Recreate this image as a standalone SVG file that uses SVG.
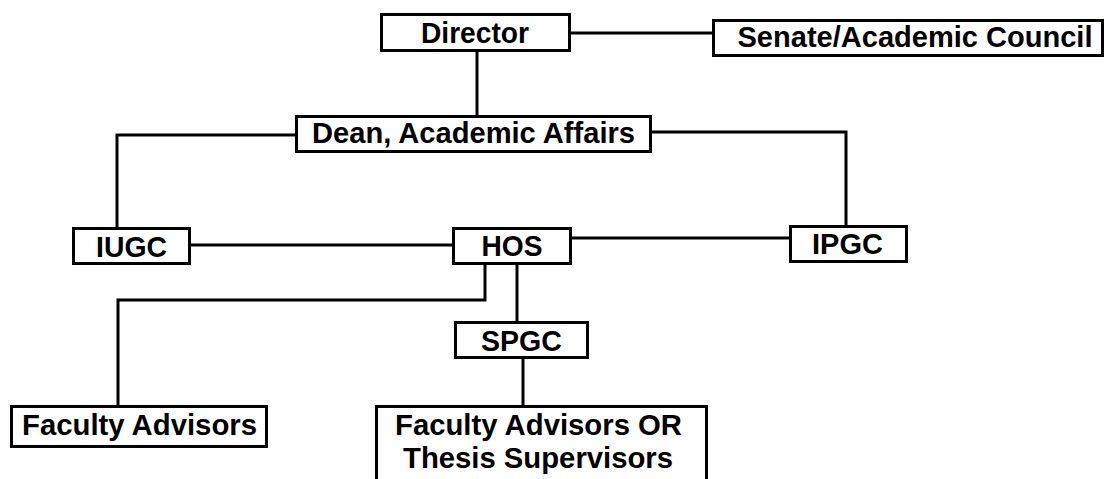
<svg xmlns="http://www.w3.org/2000/svg" width="1110" height="479" viewBox="0 0 1110 479">
<style>
.box{fill:#fff;stroke:#000;stroke-width:3}
.lbl{font-family:"Liberation Sans",Arial,sans-serif;font-weight:bold;font-size:30px;fill:#000;text-anchor:middle}
.con{fill:none;stroke:#000;stroke-width:3}
</style>
<rect width="1110" height="479" fill="#fff"/>
<g id="connectors">
<polyline class="con" points="571,33 712,33"/>
<polyline class="con" points="477,52 477,115"/>
<polyline class="con" points="295,135 117,135 117,227"/>
<polyline class="con" points="652,132 846,132 846,225"/>
<polyline class="con" points="191,245 452,245"/>
<polyline class="con" points="572,238 789,238"/>
<polyline class="con" points="485,265 485,300 118,300 118,405"/>
<polyline class="con" points="517,265 517,321"/>
<polyline class="con" points="523,359 523,405"/>
</g>
<g id="director"><rect class="box" x="381.5" y="14.5" width="188" height="36"/><text class="lbl" x="475" y="43" textLength="108" lengthAdjust="spacingAndGlyphs">Director</text></g>
<g id="senate"><rect class="box" x="713.5" y="20.5" width="389" height="35"/><text class="lbl" x="915" y="47" textLength="355" lengthAdjust="spacingAndGlyphs">Senate/Academic Council</text></g>
<g id="dean"><rect class="box" x="296.5" y="116.5" width="354" height="35"/><text class="lbl" x="473.5" y="143" textLength="323" lengthAdjust="spacingAndGlyphs">Dean, Academic Affairs</text></g>
<g id="iugc"><rect class="box" x="73.5" y="228.5" width="116" height="35"/><text class="lbl" x="131.5" y="257" textLength="71" lengthAdjust="spacingAndGlyphs">IUGC</text></g>
<g id="hos"><rect class="box" x="453.5" y="228.5" width="117" height="35"/><text class="lbl" x="512" y="256" textLength="61" lengthAdjust="spacingAndGlyphs">HOS</text></g>
<g id="ipgc"><rect class="box" x="790.5" y="226.5" width="116" height="35"/><text class="lbl" x="847.5" y="254" textLength="71" lengthAdjust="spacingAndGlyphs">IPGC</text></g>
<g id="spgc"><rect class="box" x="455.5" y="322.5" width="132" height="35"/><text class="lbl" x="521.5" y="351" textLength="81" lengthAdjust="spacingAndGlyphs">SPGC</text></g>
<g id="faculty-advisors"><rect class="box" x="11.5" y="406.5" width="255" height="40"/><text class="lbl" x="139.5" y="435" textLength="235" lengthAdjust="spacingAndGlyphs">Faculty Advisors</text></g>
<g id="faculty-or-thesis"><rect class="box" x="376.5" y="406.5" width="330" height="90"/><text class="lbl" x="538.5" y="435" textLength="287" lengthAdjust="spacingAndGlyphs">Faculty Advisors OR</text><text class="lbl" x="538" y="468" textLength="270" lengthAdjust="spacingAndGlyphs">Thesis Supervisors</text></g>
</svg>
